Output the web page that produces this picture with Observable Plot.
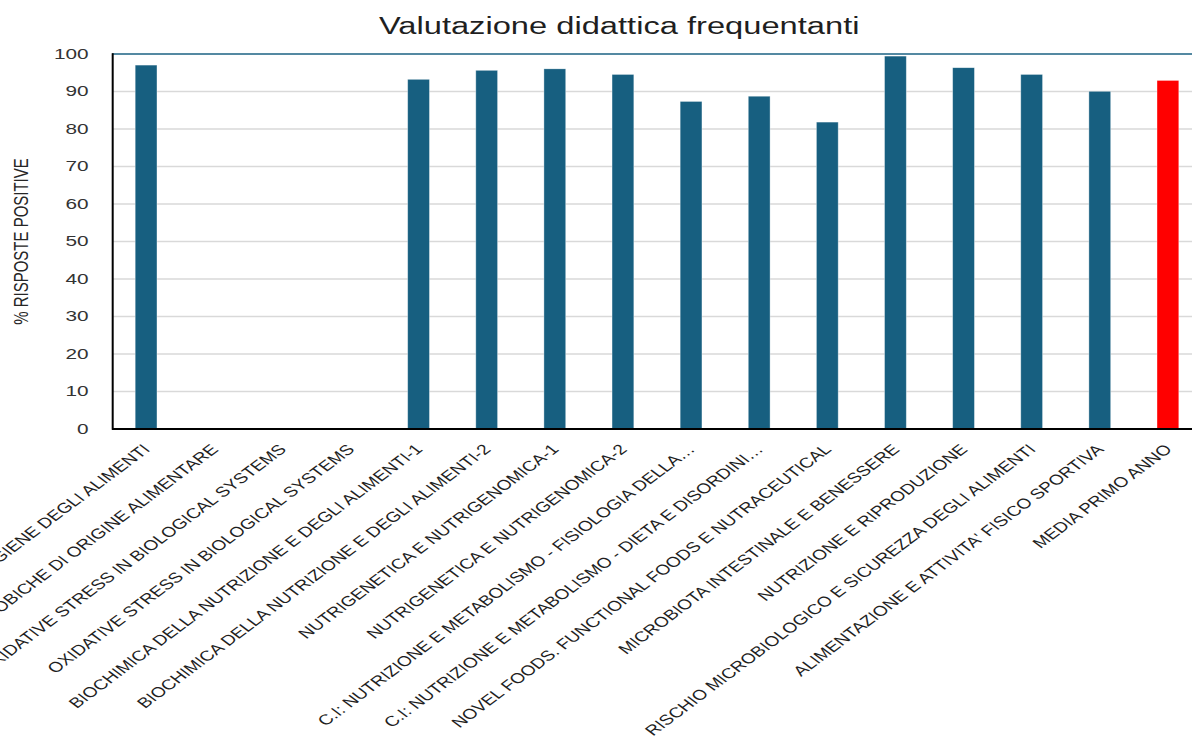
<!DOCTYPE html>
<html>
<head>
<meta charset="utf-8">
<script src="https://cdn.jsdelivr.net/npm/d3@7"></script>
<script src="https://cdn.jsdelivr.net/npm/@observablehq/plot@0.6"></script>
<style>
html, body { margin: 0; padding: 0; background: #fff; overflow: hidden; width: 1192px; height: 738px; }
#wrap { position: relative; width: 1192px; height: 738px; overflow: hidden; }
#chart { position: absolute; left: 0; top: 0; }
#title { position: absolute; left: 0; top: 15px; width: 1238px; text-align: center; z-index: 2;
  font-family: "Liberation Sans", Arial, sans-serif; font-size: 23px; line-height: 1; color: #1f1f1f; }
#title span { display: inline-block; transform: scaleX(1.42); }
</style>
</head>
<body>
<div id="wrap">
  <div id="chart"></div>
  <div id="title"><span id="titleText"></span></div>
</div>
<script>
// ---- data ----
const chartTitle = "Valutazione didattica frequentanti";
const yLabel = "% RISPOSTE POSITIVE";
const categories = [
  "IGIENE DEGLI ALIMENTI",
  "MALATTIE MICROBICHE DI ORIGINE ALIMENTARE",
  "OXIDATIVE STRESS IN BIOLOGICAL SYSTEMS",
  "OXIDATIVE STRESS IN BIOLOGICAL SYSTEMS",
  "BIOCHIMICA DELLA NUTRIZIONE E DEGLI ALIMENTI-1",
  "BIOCHIMICA DELLA NUTRIZIONE E DEGLI ALIMENTI-2",
  "NUTRIGENETICA E NUTRIGENOMICA-1",
  "NUTRIGENETICA E NUTRIGENOMICA-2",
  "C.I: NUTRIZIONE E METABOLISMO - FISIOLOGIA DELLA…",
  "C.I: NUTRIZIONE E METABOLISMO - DIETA E DISORDINI…",
  "NOVEL FOODS. FUNCTIONAL FOODS E NUTRACEUTICAL",
  "MICROBIOTA INTESTINALE E BENESSERE",
  "NUTRIZIONE E RIPRODUZIONE",
  "RISCHIO MICROBIOLOGICO E SICUREZZA DEGLI ALIMENTI",
  "ALIMENTAZIONE E ATTIVITA' FISICO SPORTIVA",
  "MEDIA PRIMO ANNO"
];
const values = [96.9, null, null, null, 93.1, 95.5, 95.9, 94.4, 87.2, 88.6, 81.7, 99.3, 96.2, 94.4, 89.9, 92.8];
const yTicks = [0, 10, 20, 30, 40, 50, 60, 70, 80, 90, 100];
const highlightCategory = "MEDIA PRIMO ANNO";

// ---- layout ----
const S = 1.34;          // horizontal stretch of the reference picture
const W = 897, H = 738;  // unstretched drawing size
const ML = 83.6;

document.getElementById("titleText").textContent = chartTitle;

const data = categories
  .map((name, i) => ({i, name, value: values[i]}))
  .filter(d => d.value != null);

const chart = Plot.plot({
  width: W,
  height: H,
  marginLeft: ML,
  marginRight: 0,
  marginTop: 53.5,
  marginBottom: 309.5,
  style: {fontFamily: "Liberation Sans, Arial, sans-serif", background: "transparent", color: "#262626"},
  x: {domain: d3.range(categories.length), paddingInner: 0.68, paddingOuter: 0.34, round: false, axis: null},
  y: {domain: [0, 100], axis: null},
  marks: [
    Plot.gridY(yTicks.filter(t => t > 0 && t < 100), {stroke: "#d9d9d9", strokeOpacity: 1, strokeWidth: 1.5}),
    Plot.barY(data, {
      x: "i",
      y: "value",
      fill: d => d.name === highlightCategory ? "#ff0000" : "#175f80",
      stroke: "#ffffff",
      strokeOpacity: 0.45,
      strokeWidth: 0.6
    }),
    Plot.ruleY([100], {stroke: "#1b6283", strokeWidth: 1.6}),
    Plot.ruleY([0], {stroke: "#000000", strokeWidth: 1.8}),
    Plot.frame({anchor: "left", stroke: "#000000", strokeWidth: 1.5}),
    Plot.axisY({ticks: yTicks, tickSize: 0, tickPadding: 18, fontSize: 15.5, label: null, fill: "#333"}),
    Plot.text([yLabel], {frameAnchor: "left", textAnchor: "middle", rotate: -90, dx: -68.3, fontSize: 15, fill: "#262626"}),
    Plot.axisX({
      tickSize: 0,
      tickPadding: 18,
      tickRotate: -45,
      tickFormat: i => categories[i],
      fontSize: 14.3,
      fill: "#1f1f1f",
      label: null
    })
  ]
});

chart.setAttribute("preserveAspectRatio", "none");
chart.style.maxWidth = "none";
chart.style.width = (W * S) + "px";
chart.style.height = H + "px";
document.getElementById("chart").appendChild(chart);
</script>
</body>
</html>
